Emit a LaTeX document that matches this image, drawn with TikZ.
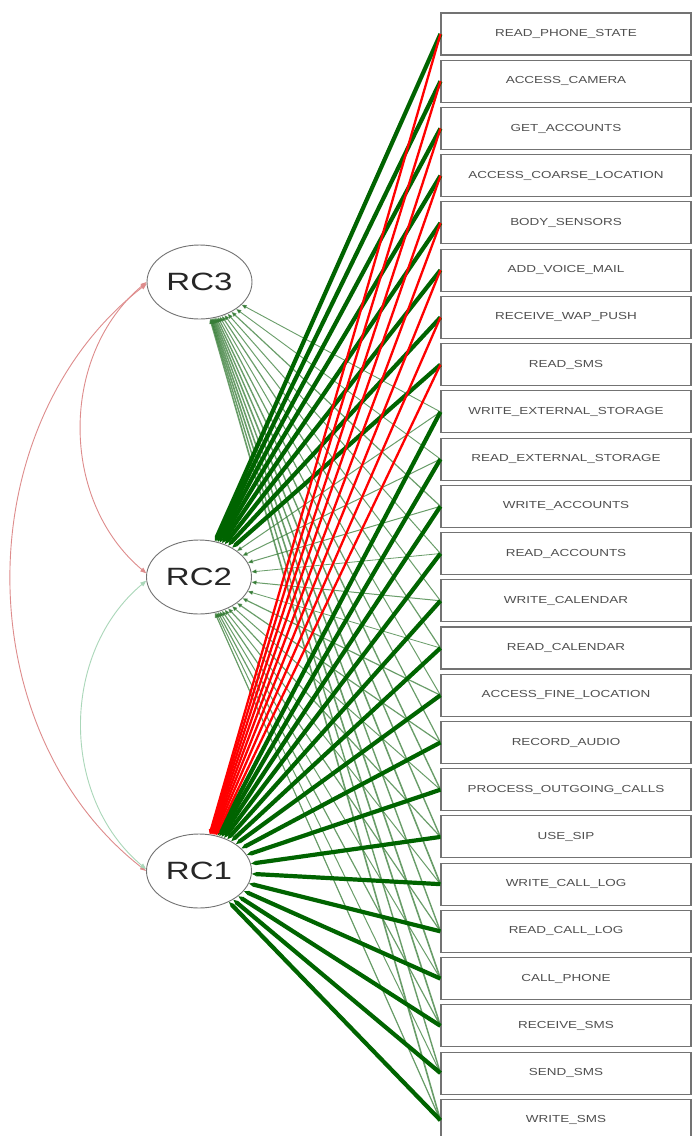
\documentclass[tikz,border=0pt]{standalone}
\usepackage{fontspec}
\setmainfont{Liberation Sans}
\usetikzlibrary{shapes.geometric,arrows.meta}
\definecolor{posgreen}{RGB}{0,100,0}
\definecolor{neg}{RGB}{255,0,0}
\definecolor{thingreen}{RGB}{55,125,55}
\definecolor{arcred}{RGB}{222,140,140}
\definecolor{arcgreen}{RGB}{170,215,185}
\definecolor{boxline}{RGB}{115,115,115}
\definecolor{labelgray}{RGB}{80,80,80}

\begin{document}
\begin{tikzpicture}[x=1pt,y=-1pt,
  item/.style={draw=boxline, line width=1.1pt, minimum width=250pt, minimum height=42pt,
    inner sep=0pt, font=\fontsize{10.2}{12}\selectfont, text=labelgray},
  factor/.style={ellipse, draw=boxline, line width=0.9pt, minimum width=105pt,
    minimum height=74pt, inner sep=0pt, fill=white, font=\fontsize{25}{30}\selectfont, text=black!85},
  tip/.style={-{Triangle[length=5pt,width=4pt]}},
  strong/.style={tip, draw=posgreen, line width=4.2pt},
  negative/.style={tip, draw=neg, line width=2.3pt},
  weak/.style={tip, draw=thingreen, draw opacity=0.75, line width=#1},
  corr/.style={{Triangle[length=6pt,width=4.5pt]}-{Triangle[length=6pt,width=4.5pt]}, line width=0.9pt}
]
\useasboundingbox (0,0) rectangle (692,1136);
\clip (0,0) rectangle (692,1136);
\fill[white] (0,0) rectangle (692,1136);

% observed variables
\foreach \i/\t in {1/READ\_PHONE\_STATE, 2/ACCESS\_CAMERA, 3/GET\_ACCOUNTS,
  4/ACCESS\_COARSE\_LOCATION, 5/BODY\_SENSORS, 6/ADD\_VOICE\_MAIL, 7/RECEIVE\_WAP\_PUSH,
  8/READ\_SMS, 9/WRITE\_EXTERNAL\_STORAGE, 10/READ\_EXTERNAL\_STORAGE, 11/WRITE\_ACCOUNTS,
  12/READ\_ACCOUNTS, 13/WRITE\_CALENDAR, 14/READ\_CALENDAR, 15/ACCESS\_FINE\_LOCATION,
  16/RECORD\_AUDIO, 17/PROCESS\_OUTGOING\_CALLS, 18/USE\_SIP, 19/WRITE\_CALL\_LOG,
  20/READ\_CALL\_LOG, 21/CALL\_PHONE, 22/RECEIVE\_SMS, 23/SEND\_SMS, 24/WRITE\_SMS}{
  \pgfmathsetmacro\yy{34+47.23*(\i-1)}
  \node[item] (b\i) at (566,\yy) {\scalebox{1.32}[1]{\t}};
}

% components
\node[factor] (rc3) at (199.5,282) {\scalebox{1.32}[1]{RC3}};
\node[factor] (rc2) at (199,577) {\scalebox{1.32}[1]{RC2}};
\node[factor] (rc1) at (199,871) {\scalebox{1.32}[1]{RC1}};

% minor loadings
\foreach \i/\w in {9/0.9,10/0.9,11/1.2,12/1.0,13/1.0,14/1.2,15/1.0,16/1.2,17/1.4,
  18/1.4,19/1.6,20/1.4,21/1.6,22/1.6,23/1.4,24/1.6}
  \draw[weak=\w pt] (b\i.west) -- (rc3);
\foreach \i/\w in {9/1.0,10/1.0,11/1.0,12/0.8,13/1.0,14/0.8,15/1.2,16/1.2,17/1.0,
  18/1.2,19/1.0,20/1.2,21/1.0,22/1.2,23/1.0,24/1.2}
  \draw[weak=\w pt] (b\i.west) -- (rc2);

% main loadings
\foreach \i in {1,...,8}
  \draw[strong] (b\i.west) -- (rc2);
\foreach \i in {9,...,24}
  \draw[strong] (b\i.west) -- (rc1);
\foreach \i in {1,...,8}
  \draw[negative] (b\i.west) -- (rc1);

% component correlations
\draw[corr, draw=arcred] (rc3.182) to[bend right=52] (rc1.180);
\draw[corr, draw=arcred] (rc3.180) to[bend right=50] (rc2.176);
\draw[corr, draw=arcgreen] (rc2.184) to[bend right=50] (rc1.178);
\end{tikzpicture}
\end{document}
